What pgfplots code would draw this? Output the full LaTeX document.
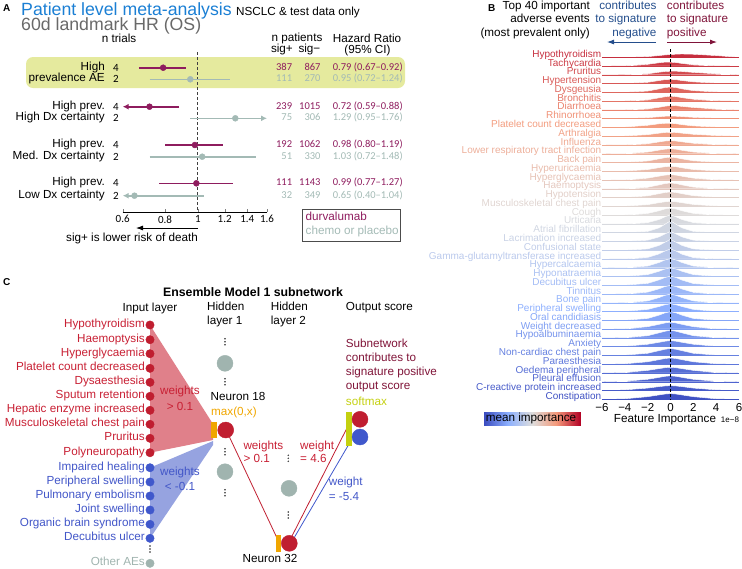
\documentclass[border=0pt]{standalone}
\usepackage{pgfplots}
\pgfplotsset{compat=1.18}
\usepackage{pgfplotstable}
\usepackage{fontspec}
\setmainfont{Liberation Sans}
\newfontfamily\carl{Carlito}
\usetikzlibrary{arrows.meta}

\definecolor{durva}{RGB}{142,28,94}
\definecolor{chemo}{RGB}{163,186,181}
\definecolor{hlband}{RGB}{229,234,158}
\definecolor{titleblue}{RGB}{27,127,212}
\definecolor{grey60}{RGB}{105,105,105}
\definecolor{negblue}{RGB}{36,78,140}
\definecolor{posred}{RGB}{128,20,58}
\definecolor{cw0}{RGB}{59,76,192}
\definecolor{cw1}{RGB}{141,176,254}
\definecolor{cw2}{RGB}{221,221,221}
\definecolor{cw3}{RGB}{244,154,123}
\definecolor{cw4}{RGB}{180,4,38}
\definecolor{cRed}{RGB}{192,30,48}
\definecolor{cRedT}{RGB}{200,32,52}
\definecolor{cBlue}{RGB}{64,88,204}
\definecolor{cBlueT}{RGB}{66,86,200}
\definecolor{cGrey}{RGB}{160,180,175}
\definecolor{cOrange}{RGB}{240,166,0}
\definecolor{cOlive}{RGB}{196,208,16}
\definecolor{cMaroon}{RGB}{128,20,56}
\definecolor{triRed}{RGB}{224,128,138}
\definecolor{triBlue}{RGB}{150,163,224}

\pgfplotsset{colormap={coolwarm}{rgb255=(59,76,192) rgb255=(141,176,254) rgb255=(221,221,221) rgb255=(244,154,123) rgb255=(180,4,38)}}

\newcommand\fs[1]{\fontsize{#1}{#1}\selectfont}
\tikzset{lab/.style={inner sep=0pt, font=\fs{11.7}},
         num/.style={inner sep=0pt, font=\carl\fs{10.5}}}
\newcommand\rl[2]{\node[inner sep=0pt, anchor=base east, text=rc#1, font=\fs{10}] at (axis cs:-6.05,#1) {#2};}
\newcommand\nt[2]{\node[num, font=\carl\fs{11}] at (axis cs:116,#1) {#2};}
\newcommand\inR[2]{\node[lab, text=cRedT, anchor=mid east] at (axis cs:145,#1) {#2};}
\newcommand\inB[2]{\node[lab, text=cBlueT, anchor=mid east] at (axis cs:145,#1) {#2};}
% one forest row of numbers: y, colour, sig+, sig-, HR text
\newcommand\nr[5]{%
  \node[num, text=#2, anchor=mid east] at (axis cs:292.3,#1) {#3};
  \node[num, text=#2, anchor=mid east] at (axis cs:320.7,#1) {#4};
  \node[num, text=#2, anchor=mid west] at (axis cs:332.7,#1) {#5};}

% ridge heights (in row units), one column per adverse event
\pgfplotstableread{
x r0 r1 r2 r3 r4 r5 r6 r7 r8 r9 r10 r11 r12 r13 r14 r15 r16 r17 r18 r19 r20 r21 r22 r23 r24 r25 r26 r27 r28 r29 r30 r31 r32 r33 r34 r35 r36 r37 r38 r39
-6 0 0 0 0 0 0 0 0 0 0 0 0 0 0 0 0 0 0 0 0 0 0 0 0 0 0 0 0 0 0 0 0 0 0 0 0 0 0 0 0
-4 0 0.03 0.02 0.02 0.02 0.02 0.02 0.03 0.05 0.03 0.02 0.03 0.02 0.03 0.03 0.02 0.02 0.03 0.02 0.01 0.01 0.01 0.01 0.01 0.02 0.02 0.02 0.02 0.02 0.03 0.02 0.04 0.04 0.05 0.04 0.05 0.06 0.06 0.08 0.06
-2 0.08 0.2 0.12 0.15 0.15 0.15 0.12 0.12 0.25 0.18 0.15 0.2 0.18 0.2 0.22 0.18 0.2 0.2 0.2 0.15 0.15 0.15 0.15 0.18 0.2 0.22 0.22 0.22 0.22 0.25 0.22 0.28 0.25 0.28 0.25 0.28 0.3 0.28 0.28 0.3
-1 0.2 0.38 0.3 0.35 0.4 0.38 0.3 0.22 0.42 0.35 0.35 0.42 0.42 0.42 0.45 0.45 0.45 0.42 0.5 0.5 0.55 0.52 0.55 0.58 0.6 0.6 0.62 0.6 0.6 0.58 0.6 0.55 0.58 0.5 0.55 0.52 0.5 0.5 0.45 0.5
-0.5 0.27 0.45 0.38 0.45 0.55 0.5 0.42 0.28 0.48 0.42 0.45 0.52 0.55 0.52 0.56 0.6 0.58 0.52 0.7 0.8 0.95 0.85 0.9 0.9 0.88 0.85 0.88 0.85 0.85 0.78 0.85 0.7 0.75 0.62 0.7 0.65 0.6 0.62 0.52 0.6
0 0.32 0.45 0.42 0.48 0.62 0.58 0.5 0.3 0.48 0.45 0.5 0.58 0.62 0.58 0.62 0.68 0.65 0.58 0.82 1.05 1.35 1.15 1.25 1.15 1.05 1 1.05 1 1 0.9 1 0.8 0.88 0.7 0.8 0.72 0.66 0.68 0.56 0.65
0.5 0.36 0.4 0.42 0.45 0.55 0.52 0.48 0.28 0.42 0.42 0.45 0.52 0.55 0.52 0.56 0.6 0.58 0.52 0.7 0.8 0.95 0.85 0.9 0.9 0.88 0.85 0.88 0.85 0.85 0.78 0.85 0.7 0.75 0.62 0.7 0.65 0.6 0.62 0.52 0.6
1 0.38 0.3 0.38 0.35 0.4 0.4 0.4 0.24 0.32 0.35 0.36 0.4 0.42 0.4 0.44 0.45 0.45 0.42 0.5 0.5 0.55 0.52 0.55 0.55 0.6 0.6 0.6 0.58 0.6 0.58 0.6 0.55 0.58 0.5 0.55 0.52 0.5 0.5 0.45 0.5
2 0.35 0.15 0.28 0.2 0.2 0.22 0.28 0.16 0.18 0.22 0.2 0.2 0.2 0.2 0.22 0.2 0.22 0.22 0.2 0.15 0.15 0.15 0.15 0.16 0.2 0.22 0.2 0.2 0.22 0.25 0.22 0.28 0.25 0.28 0.25 0.28 0.3 0.28 0.28 0.3
4 0.2 0.03 0.12 0.06 0.05 0.06 0.1 0.06 0.05 0.08 0.06 0.04 0.04 0.05 0.05 0.03 0.04 0.05 0.03 0.02 0.01 0.01 0.01 0.01 0.02 0.02 0.02 0.02 0.02 0.03 0.02 0.04 0.04 0.05 0.04 0.05 0.06 0.06 0.08 0.06
6 0 0 0 0 0 0 0 0 0 0 0 0 0 0 0 0 0 0 0 0 0 0 0 0 0 0 0 0 0 0 0 0 0 0 0 0 0 0 0 0
}\ridges

\begin{document}
% row colours from the coolwarm map (mean importance, top = high)
\foreach \i in {0,...,39}{%
  \pgfmathsetmacro\s{4*(0.93-0.0235*\i)}%
  \pgfmathtruncatemacro\k{min(floor(\s),3)}%
  \pgfmathtruncatemacro\kk{\k+1}%
  \pgfmathsetmacro\f{100*(\s-\k)}%
  \xglobal\colorlet{rc\i}{cw\kk!\f!cw\k}%
}%
\begin{tikzpicture}
\useasboundingbox (0,0) rectangle (742pt,-568pt);

% ---------- canvas (pixel coordinates) ----------
\begin{axis}[at={(0pt,0pt)}, anchor=north west, scale only axis,
  width=742pt, height=568pt, xmin=0, xmax=742, ymin=0, ymax=568,
  y dir=reverse, hide axis, clip=false,
  colormap name=coolwarm, point meta min=0, point meta max=1]

% panel A decorations
\addplot[fill=hlband, draw=none, rounded corners=7pt] coordinates {(26,57)(405,57)(405,88)(26,88)} -- cycle;
\addplot[draw=black!70, line width=0.8pt] coordinates {(302,209)(400,209)(400,241)(302,241)} -- cycle;
\addplot[black, line width=0.8pt, -{Latex[length=7pt,width=5pt]}] coordinates {(198,228)(136,228)};

% panel B arrows and colour bar
\addplot[negblue, line width=0.9pt, -{Latex[length=7pt,width=5pt]}] coordinates {(656,42)(607,42)};
\addplot[posred, line width=0.9pt, -{Latex[length=7pt,width=5pt]}] coordinates {(667,42)(717,42)};
\addplot[surf, shader=interp, mesh/rows=2, mesh/cols=5, point meta=explicit] table[meta=c] {
x y c
484 412 0
508 412 0.25
532 412 0.5
556 412 0.75
580 412 1
484 425 0
508 425 0.25
532 425 0.5
556 425 0.75
580 425 1
};

% panel C network
\addplot[fill=triRed, draw=none] coordinates {(150,325)(213,424)(213,440)(150,452.7)} -- cycle;
\addplot[fill=triBlue, draw=none] coordinates {(150,467.7)(213,441)(213,445)(150,538.3)} -- cycle;
\addplot[cRed, line width=0.8pt] coordinates {(229,436)(277,538)};
\addplot[cRed, line width=0.8pt] coordinates {(292,536)(347,428)};
\addplot[cBlue, line width=0.8pt] coordinates {(294,538)(349,444)};
\addplot[fill=cOrange, draw=none] coordinates {(211.3,421.7)(217.3,421.7)(217.3,438.3)(211.3,438.3)} -- cycle;
\addplot[fill=cOrange, draw=none] coordinates {(275.7,535)(281,535)(281,551.7)(275.7,551.7)} -- cycle;
\addplot[fill=cOlive, draw=none] coordinates {(346,411.7)(351.7,411.7)(351.7,445.7)(346,445.7)} -- cycle;
\addplot[only marks, mark=*, mark size=4.2pt, cRed] coordinates {(150,325)(150,339.7)(150,353.7)(150,368.3)(150,382.3)(150,396.3)(150,410.3)(150,424.3)(150,438.3)(150,452.7)};
\addplot[only marks, mark=*, mark size=4.2pt, cBlue] coordinates {(150,467.7)(150,482)(150,496)(150,510)(150,524.3)(150,538.3)};
\addplot[only marks, mark=*, mark size=4.2pt, cGrey] coordinates {(150,563.3)};
\addplot[only marks, mark=*, mark size=8pt, cGrey] coordinates {(225,363.3)(225,471.7)(289,488.3)};
\addplot[only marks, mark=*, mark size=8pt, cRed] coordinates {(225.7,430)(289.3,543.3)(360,419.3)};
\addplot[only marks, mark=*, mark size=8pt, cBlue] coordinates {(360,437)};
\addplot[only marks, mark=*, mark size=0.55pt, black!70] coordinates {
  (225,338.7)(225,341.7)(225,344.7) (225,378.7)(225,381.7)(225,384.7)
  (225,448.7)(225,451.7)(225,454.7) (225,489.7)(225,492.7)(225,495.7)
  (288.3,455.3)(288.3,458.3)(288.3,461.3) (288.3,512)(288.3,515)(288.3,518)
  (150,546)(150,549)(150,552)};

% ---- texts panel A
\node[lab, font=\fs{10}\bfseries, anchor=mid west] at (axis cs:3,9) {A};
\node[lab, font=\fs{17.7}, text=titleblue, anchor=base west] at (axis cs:21,15.5) {Patient level meta-analysis};
\node[lab, anchor=base west] at (axis cs:236,15.5) {NSCLC \& test data only};
\node[lab, font=\fs{17.7}, text=grey60, anchor=base west] at (axis cs:21,30.5) {60d landmark HR (OS)};
\node[lab] at (axis cs:119,38) {n trials};
\node[lab] at (axis cs:297,38) {n patients};
\node[lab, anchor=mid east] at (axis cs:293,50) {sig+};
\node[lab, anchor=mid east] at (axis cs:320.5,50) {sig−};
\node[lab] at (axis cs:367,38) {Hazard Ratio};
\node[lab] at (axis cs:367.5,50) {(95\% CI)};
\node[lab, anchor=mid east] at (axis cs:105,67.7) {High};
\node[lab, anchor=mid east] at (axis cs:105,79.3) {prevalence AE};
\node[lab, anchor=mid east] at (axis cs:105,106.7) {High prev.};
\node[lab, anchor=mid east] at (axis cs:105,118.3) {High Dx certainty};
\node[lab, anchor=mid east] at (axis cs:105,145) {High prev.};
\node[lab, anchor=mid east] at (axis cs:105,156.7) {Med. Dx certainty};
\node[lab, anchor=mid east] at (axis cs:105,183.3) {High prev.};
\node[lab, anchor=mid east] at (axis cs:105,195.7) {Low Dx certainty};
\nt{67.7}{4} \nt{79.3}{2} \nt{106.7}{4} \nt{118.3}{2}
\nt{145}{4} \nt{156.7}{2} \nt{183.3}{4} \nt{195.7}{2}
\nr{67.7}{durva}{387}{867}{0.79 (0.67–0.92)}
\nr{79.3}{chemo}{111}{270}{0.95 (0.72–1.24)}
\nr{106.7}{durva}{239}{1015}{0.72 (0.59–0.88)}
\nr{118.3}{chemo}{75}{306}{1.29 (0.95–1.76)}
\nr{145}{durva}{192}{1062}{0.98 (0.80–1.19)}
\nr{156.7}{chemo}{51}{330}{1.03 (0.72–1.48)}
\nr{183.3}{durva}{111}{1143}{0.99 (0.77–1.27)}
\nr{195.7}{chemo}{32}{349}{0.65 (0.40–1.04)}
\node[lab, text=durva, anchor=mid west] at (axis cs:305.5,217.5) {durvalumab};
\node[lab, text=chemo, anchor=mid west] at (axis cs:305.5,232) {chemo or placebo};
\node[lab] at (axis cs:132,238) {sig+ is lower risk of death};

% ---- texts panel B
\node[lab, font=\fs{10}\bfseries, anchor=mid west] at (axis cs:488,9) {B};
\node[lab, anchor=mid east] at (axis cs:590,6.5) {Top 40 important};
\node[lab, anchor=mid east] at (axis cs:590,20) {adverse events};
\node[lab, anchor=mid east] at (axis cs:590,33.5) {(most prevalent only)};
\node[lab, text=negblue, anchor=mid east] at (axis cs:656.7,6.5) {contributes};
\node[lab, text=negblue, anchor=mid east] at (axis cs:656.7,20) {to signature};
\node[lab, text=negblue, anchor=mid east] at (axis cs:656.7,33.5) {negative};
\node[lab, text=posred, anchor=mid west] at (axis cs:666.7,6.5) {contributes};
\node[lab, text=posred, anchor=mid west] at (axis cs:666.7,20) {to signature};
\node[lab, text=posred, anchor=mid west] at (axis cs:666.7,33.5) {positive};
\node[lab] at (axis cs:665,419.5) {Feature Importance};
\node[lab, font=\fs{8}] at (axis cs:730,420) {1e−8};
\node[lab] at (axis cs:531,418.5) {mean importance};

% ---- texts panel C
\node[lab, font=\fs{10}\bfseries, anchor=mid west] at (axis cs:3,283) {C};
\node[lab, font=\fs{12.3}\bfseries] at (axis cs:253,292) {Ensemble Model 1 subnetwork};
\node[lab] at (axis cs:150,308.3) {Input layer};
\node[lab, anchor=mid west] at (axis cs:207,308.3) {Hidden};
\node[lab, anchor=mid west] at (axis cs:207,322) {layer 1};
\node[lab, anchor=mid west] at (axis cs:270.7,308.3) {Hidden};
\node[lab, anchor=mid west] at (axis cs:270.7,322) {layer 2};
\node[lab, anchor=mid west] at (axis cs:345.7,308.3) {Output score};
\inR{325}{Hypothyroidism}
\inR{339.7}{Haemoptysis}
\inR{353.7}{Hyperglycaemia}
\inR{368.3}{Platelet count decreased}
\inR{382.3}{Dysaesthesia}
\inR{396.3}{Sputum retention}
\inR{410.3}{Hepatic enzyme increased}
\inR{424.3}{Musculoskeletal chest pain}
\inR{438.3}{Pruritus}
\inR{452.7}{Polyneuropathy}
\inB{467.7}{Impaired healing}
\inB{482}{Peripheral swelling}
\inB{496}{Pulmonary embolism}
\inB{510}{Joint swelling}
\inB{524.3}{Organic brain syndrome}
\inB{538.3}{Decubitus ulcer}
\node[lab, text=cGrey, anchor=mid east] at (axis cs:145,563.3) {Other AEs};
\node[lab, text=cRedT] at (axis cs:180,391.7) {weights};
\node[lab, text=cRedT] at (axis cs:180,406.7) {> 0.1};
\node[lab, text=cBlueT] at (axis cs:180,472.7) {weights};
\node[lab, text=cBlueT] at (axis cs:180,486.7) {< -0.1};
\node[lab, anchor=mid west] at (axis cs:210.5,398.3) {Neuron 18};
\node[lab, text=cOrange, anchor=mid west] at (axis cs:211,413.3) {max(0,x)};
\node[lab, text=cRedT, anchor=mid west] at (axis cs:243.3,446.7) {weights};
\node[lab, text=cRedT, anchor=mid west] at (axis cs:243.3,460) {> 0.1};
\node[lab, text=cRedT, anchor=mid west] at (axis cs:300,446.7) {weight};
\node[lab, text=cRedT, anchor=mid west] at (axis cs:300,460) {= 4.6};
\node[lab, text=cBlueT, anchor=mid west] at (axis cs:328.7,483.3) {weight};
\node[lab, text=cBlueT, anchor=mid west] at (axis cs:328.7,498.3) {= -5.4};
\node[lab] at (axis cs:270,558.3) {Neuron 32};
\node[lab, text=cOlive, anchor=mid west] at (axis cs:345.7,402.7) {softmax};
\node[lab, text=cMaroon, anchor=mid west] at (axis cs:345.7,345) {Subnetwork};
\node[lab, text=cMaroon, anchor=mid west] at (axis cs:345.7,359) {contributes to};
\node[lab, text=cMaroon, anchor=mid west] at (axis cs:345.7,373.3) {signature positive};
\node[lab, text=cMaroon, anchor=mid west] at (axis cs:345.7,387.3) {output score};
\end{axis}

% ---------- panel A: forest plot ----------
\begin{axis}[at={(122.7pt,-212pt)}, anchor=south west, scale only axis,
  width=144.3pt, height=162pt, xmode=log, xmin=0.6, xmax=1.6,
  ymin=50, ymax=212, y dir=reverse, clip=false,
  axis x line*=bottom, axis y line=none,
  x axis line style={-, line width=0.6pt},
  xtick={0.6,0.8,1,1.2,1.4,1.6}, xticklabels={0.6,0.8,1,1.2,1.4,1.6},
  tick align=inside, major tick length=3pt,
  ticklabel style={font=\carl\fs{11}}]
\addplot[black!75, line width=0.8pt, dash pattern=on 3pt off 2pt] coordinates {(1,52)(1,212)};
% durvalumab CIs
\addplot[durva, line width=1.6pt] coordinates {(0.67,67.7)(0.92,67.7)};
\addplot[durva, line width=1.6pt, -{Latex[length=6pt,width=6pt]}] coordinates {(0.88,106.7)(0.6,106.7)};
\addplot[durva, line width=1.6pt] coordinates {(0.80,145)(1.19,145)};
\addplot[durva, line width=1.6pt] coordinates {(0.77,183.3)(1.27,183.3)};
% chemo or placebo CIs
\addplot[chemo, line width=1.6pt] coordinates {(0.72,79.3)(1.24,79.3)};
\addplot[chemo, line width=1.6pt, -{Latex[length=6pt,width=6pt]}] coordinates {(0.95,118.3)(1.6,118.3)};
\addplot[chemo, line width=1.6pt] coordinates {(0.72,156.7)(1.48,156.7)};
\addplot[chemo, line width=1.6pt, -{Latex[length=6pt,width=6pt]}] coordinates {(1.04,195.7)(0.6,195.7)};
\addplot[only marks, mark=*, mark size=3pt, durva] coordinates {(0.79,67.7)(0.72,106.7)(0.98,145)(0.99,183.3)};
\addplot[only marks, mark=*, mark size=3pt, chemo] coordinates {(0.95,79.3)(1.29,118.3)(1.03,156.7)(0.65,195.7)};
\end{axis}

% ---------- panel B: ridge plot ----------
\begin{axis}[at={(602pt,-49pt)}, anchor=north west, scale only axis,
  width=137pt, height=351.2pt, xmin=-6, xmax=6, ymin=-0.95, ymax=39.1,
  y dir=reverse, clip=false,
  axis x line*=bottom, axis y line=none, x axis line style={draw=none},
  major tick length=0pt, xtick={-6,-4,-2,0,2,4,6},
  xticklabels={−6,−4,−2,0,2,4,6}, ticklabel style={font=\fs{11.5}}]
\pgfplotsinvokeforeach{0,...,39}{
  \addplot[fill=rc#1, draw=white, line width=0.4pt] table[x=x, y expr={#1-\thisrow{r#1}}] {\ridges} -- cycle;
  \addplot[rc#1, line width=0.5pt] coordinates {(-6,#1)(6,#1)};
}
\addplot[black, line width=0.8pt, dash pattern=on 3pt off 2pt] coordinates {(0,-0.95)(0,39.1)};
\rl{0}{Hypothyroidism}
\rl{1}{Tachycardia}
\rl{2}{Pruritus}
\rl{3}{Hypertension}
\rl{4}{Dysgeusia}
\rl{5}{Bronchitis}
\rl{6}{Diarrhoea}
\rl{7}{Rhinorrhoea}
\rl{8}{Platelet count decreased}
\rl{9}{Arthralgia}
\rl{10}{Influenza}
\rl{11}{Lower respiratory tract infection}
\rl{12}{Back pain}
\rl{13}{Hyperuricaemia}
\rl{14}{Hyperglycaemia}
\rl{15}{Haemoptysis}
\rl{16}{Hypotension}
\rl{17}{Musculoskeletal chest pain}
\rl{18}{Cough}
\rl{19}{Urticaria}
\rl{20}{Atrial fibrillation}
\rl{21}{Lacrimation increased}
\rl{22}{Confusional state}
\rl{23}{Gamma-glutamyltransferase increased}
\rl{24}{Hypercalcaemia}
\rl{25}{Hyponatraemia}
\rl{26}{Decubitus ulcer}
\rl{27}{Tinnitus}
\rl{28}{Bone pain}
\rl{29}{Peripheral swelling}
\rl{30}{Oral candidiasis}
\rl{31}{Weight decreased}
\rl{32}{Hypoalbuminaemia}
\rl{33}{Anxiety}
\rl{34}{Non-cardiac chest pain}
\rl{35}{Paraesthesia}
\rl{36}{Oedema peripheral}
\rl{37}{Pleural effusion}
\rl{38}{C-reactive protein increased}
\rl{39}{Constipation}
\end{axis}
\end{tikzpicture}
\end{document}
